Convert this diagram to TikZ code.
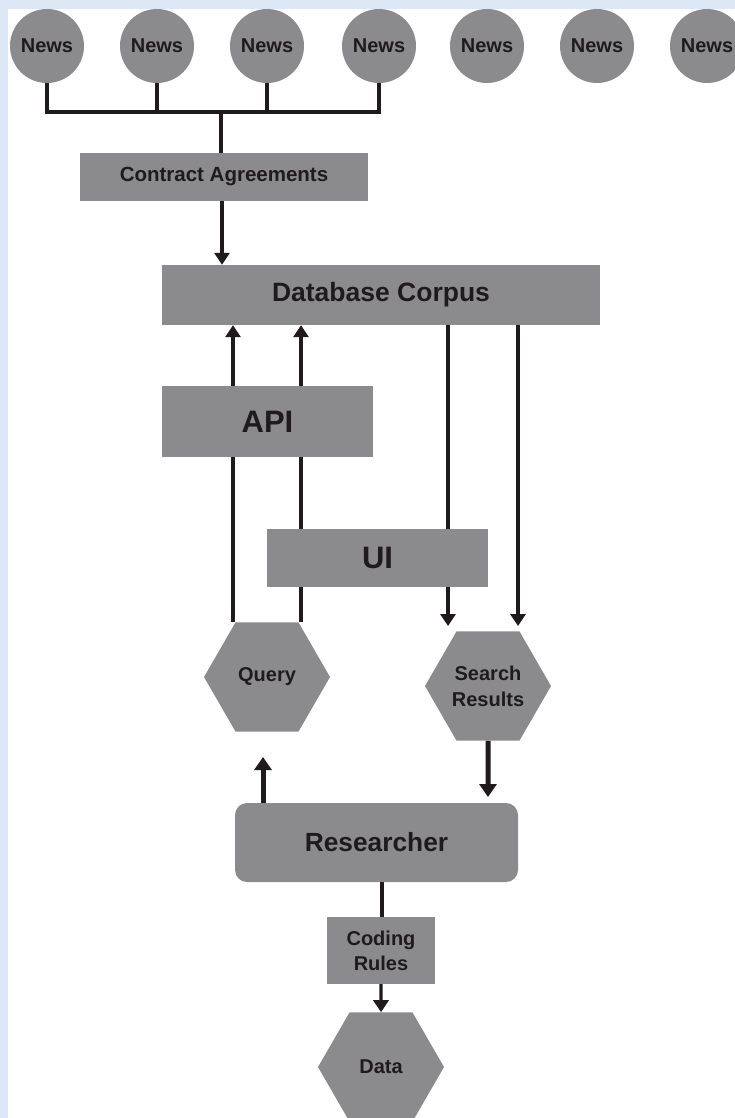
\documentclass[tikz,border=0pt]{standalone}
\usepackage{fontspec}
\setmainfont{Liberation Sans}
\usetikzlibrary{shapes.geometric,arrows.meta}
\definecolor{bgblue}{HTML}{DCE8F6}
\definecolor{boxgray}{HTML}{8B8B8D}
\definecolor{ink}{HTML}{1F1B1C}
\newcommand{\fs}[2]{\bfseries\fontsize{#1}{#2}\selectfont}
\begin{document}
\begin{tikzpicture}[x=1pt,y=-1pt,
  news/.style={circle, fill=boxgray, minimum size=74pt, inner sep=0pt, text=ink, font=\fs{20}{22}},
  rbox/.style={rectangle, fill=boxgray, inner sep=0pt, text=ink, align=center},
  hexa/.style={regular polygon, regular polygon sides=6, minimum size=126pt, fill=boxgray, inner sep=0pt, text=ink, align=center, font=\fs{20}{26}},
  conn/.style={line width=3.2pt, draw=ink},
  arr/.style={conn, -{Triangle[width=15pt,length=12pt]}},
  tharr/.style={line width=5pt, draw=ink, -{Triangle[width=17pt,length=13pt]}}
]
\useasboundingbox (0,0) rectangle (735,1118);
\clip (0,0) rectangle (735,1118);
\fill[bgblue] (0,0) rectangle (735,1118);
\fill[white] (8,9) rectangle (735,1118);

% news circles
\foreach \i/\x in {1/47,2/157,3/267,4/379,5/487,6/597,7/707}
  \node[news] (n\i) at (\x,46) {News};

% coordinates
\coordinate (bus) at (221,112);
\coordinate (xa) at (222,0);
\coordinate (xq1) at (233,0);
\coordinate (xq2) at (301,0);
\coordinate (xd1) at (448,0);
\coordinate (xd2) at (518,0);
\coordinate (xc) at (382,0);
\coordinate (sr1) at (448,626);
\coordinate (sr2) at (518,626);
\coordinate (qin) at (263,757);
\coordinate (rin) at (488,797);
\coordinate (xr) at (263,0);

% nodes
\node[rbox, minimum width=288pt, minimum height=48pt, font=\fs{20.5}{24}] (ca) at (224,177) {Contract Agreements};
\node[rbox, minimum width=438pt, minimum height=60pt, font=\fs{26.5}{30}] (db) at (381,295) {Database Corpus};
\node[hexa] (q) at (267,677) {Query};
\node[hexa] (sr) at (488,686) {Search\\Results};
\node[rbox, rounded corners=12pt, minimum width=283pt, minimum height=79pt, font=\fs{26.3}{30}] (rs) at (376.5,842.5) {Researcher};
\node[rbox, minimum width=108pt, minimum height=67pt, font=\fs{20}{25}] (cr) at (381,950.5) {Coding\\Rules};
\node[hexa] (dt) at (381,1067) {Data};

% tree connectors
\draw[conn] (n1.south) -- (n1.south |- bus) -- (n4.south |- bus) -- (n4.south);
\draw[conn] (n2.south) -- (n2.south |- bus);
\draw[conn] (n3.south) -- (n3.south |- bus);
\draw[conn] (bus) -- (ca.north -| bus);
\draw[arr] (ca.south -| xa) -- (db.north -| xa);

% query and result lines (behind API and UI)
\draw[arr] (q.north -| xq1) -- (db.south -| xq1);
\draw[arr] (q.north -| xq2) -- (db.south -| xq2);
\draw[arr] (db.south -| xd1) -- (sr1);
\draw[arr] (db.south -| xd2) -- (sr2);

\node[rbox, minimum width=211pt, minimum height=71pt, font=\fs{31}{36}] (api) at (267.5,421.5) {API};
\node[rbox, minimum width=221pt, minimum height=58pt, font=\fs{31}{36}] (ui) at (377.5,558) {UI};

% researcher connectors
\draw[tharr] (rs.north -| xr) -- (qin);
\draw[tharr] (sr.south) -- (rin);
\draw[conn] (rs.south -| xc) -- (cr.north -| xc);
\draw[arr] (cr.south) -- (dt.north);
\end{tikzpicture}
\end{document}
